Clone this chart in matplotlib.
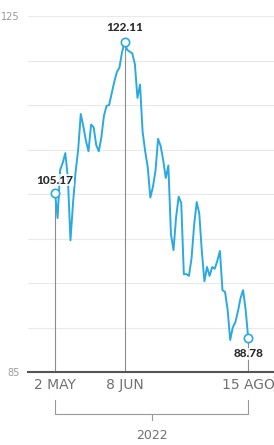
import numpy as np
import matplotlib
matplotlib.use('Agg')
import matplotlib.pyplot as plt

# closing prices, one per trading day from 2 May to 15 Aug 2022
values = [105.17, 102.3, 107.7, 108.5, 109.6, 106.8, 99.8, 104.0, 107.5, 110.0,
          114.0, 112.6, 111.0, 109.8, 112.8, 112.5, 110.5, 109.8, 111.4, 113.8,
          114.9, 115.0, 116.3, 117.6, 118.7, 119.2, 120.9, 122.11, 121.2, 121.0,
          120.8, 119.6, 115.8, 117.3, 112.0, 109.8, 108.0, 104.6, 105.8, 107.6,
          111.2, 110.4, 108.8, 106.8, 108.2, 100.5, 98.7, 102.4, 104.7, 104.0,
          96.0, 96.0, 95.8, 97.8, 101.5, 104.1, 102.8, 98.5, 95.2, 96.8,
          95.8, 96.8, 96.6, 97.5, 98.6, 94.2, 94.0, 92.0, 88.6, 90.0,
          90.6, 91.8, 93.3, 94.2, 92.0, 88.78]
date_labels = ['2 MAY', '8 JUN', '15 AGO']
date_idx = [0, 27, 75]
year_label = '2022'
value_labels = ['105.17', '122.11', '88.78']

blue = '#2aaae0'
plt.rcParams['font.family'] = ['Liberation Sans Narrow', 'DejaVu Sans']

fig = plt.figure(figsize=(2.74, 4.45), dpi=100)
ax = fig.add_axes([0.102, 0.164, 0.898, 0.8])

x = np.arange(len(values))
ax.plot(x, values, color=blue, lw=1.4, zorder=3)

ax.set_xlim(-10.5, 85)
ax.set_ylim(85, 125)
ax.set_yticks(np.arange(85, 126, 5))
ax.set_yticklabels(['85'] + [''] * 7 + ['125'])
ax.tick_params(axis='y', length=0, labelsize=7, labelcolor='#999999', pad=6)
ax.grid(axis='y', color='#e9e9e9', lw=0.8)
ax.set_axisbelow(True)
ax.set_xticks([])
for s in ['top', 'right', 'left']:
    ax.spines[s].set_visible(False)
ax.spines['bottom'].set_color('#555555')
ax.spines['bottom'].set_linewidth(1.5)

# markers, reference lines and value labels
offsets = [(0, 5), (0, 6), (0, -7)]
for i, lab, (dx, dy) in zip(date_idx, value_labels, offsets):
    v = values[i]
    ax.plot([i, i], [85, v], color='#8c8c8c', lw=0.8, zorder=2)
    ax.plot(i, v, 'o', ms=6, mfc='white', mec=blue, mew=1.2, zorder=4)
    va = 'bottom' if dy > 0 else 'top'
    ax.annotate(lab, (i, v), xytext=(dx, dy), textcoords='offset points',
                ha='center', va=va, fontsize=8.5, fontweight=900,
                family=['Lato', 'DejaVu Sans'], color='#2b2b2b', zorder=5,
                bbox=dict(boxstyle='square,pad=0.05', fc='white', ec='none', alpha=0.8))

tr = ax.get_xaxis_transform()
for i, lab in zip(date_idx, date_labels):
    ax.text(i, -0.037, lab, transform=tr, ha='center', va='center',
            fontsize=10, color='#707070')

# year bracket
i0, i1 = date_idx[0], date_idx[-1]
mid = (i0 + i1) / 2
ax.plot([i0, i0, i1, i1], [-0.079, -0.118, -0.118, -0.079], transform=tr,
        color='#999999', lw=0.8, clip_on=False)
ax.plot([mid, mid], [-0.118, -0.135], transform=tr, color='#999999', lw=0.8,
        clip_on=False)
ax.text(mid, -0.177, year_label, transform=tr, ha='center', va='center',
        fontsize=9, color='#707070')

fig.savefig('out.png', dpi=100)
